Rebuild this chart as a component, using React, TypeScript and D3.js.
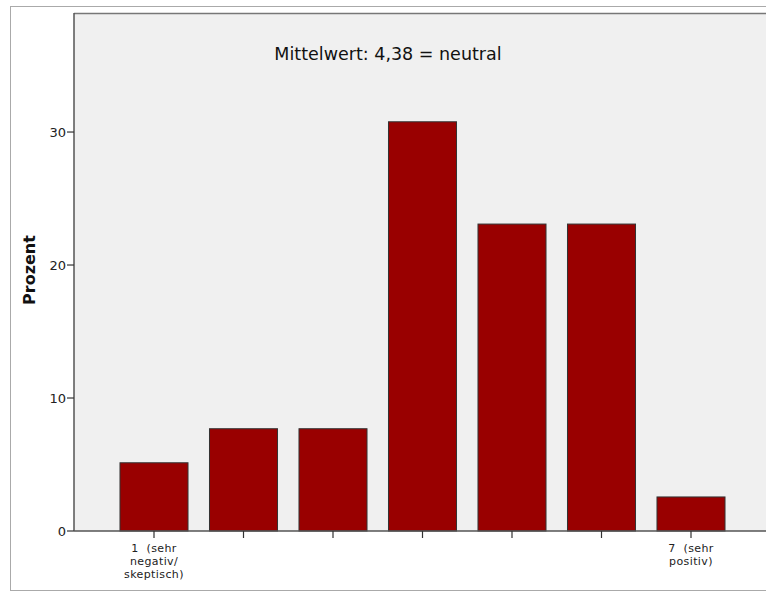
import React from "react";
import * as d3 from "d3";

const categories = ["1", "2", "3", "4", "5", "6", "7"];
const percents = [5.13, 7.69, 7.69, 30.77, 23.08, 23.08, 2.56];
const categoryLabels: Record<string, string[]> = {
  "1": ["1\u00a0\u00a0(sehr", "negativ/", "skeptisch)"],
  "7": ["7\u00a0\u00a0(sehr", "positiv)"],
};
const yTicks = [0, 10, 20, 30];
const titleText = "Mittelwert: 4,38 = neutral";
const yAxisLabel = "Prozent";

const W = 766;
const H = 592;
const plotLeft = 74;
const plotTop = 13;
const plotBottom = 531;
const plotRight = 770;

export default function App() {
  const x = d3
    .scaleBand<string>()
    .domain(categories)
    .range([109.25, 735.75])
    .paddingInner(0.24)
    .paddingOuter(0.12);
  const y = d3.scaleLinear().domain([0, 38.95]).range([plotBottom, plotTop]);
  const font = "'DejaVu Sans', sans-serif";

  return (
    <svg
      width={W}
      height={H}
      style={{ position: "absolute", left: 0, top: 0, background: "#fff" }}
      fontFamily={font}
    >
      <rect x={10.5} y={6.5} width={800} height={584} fill="#fff" stroke="#aaa" strokeWidth={1} />
      <rect
        x={plotLeft}
        y={plotTop}
        width={plotRight - plotLeft}
        height={plotBottom - plotTop}
        fill="#f0f0f0"
      />
      <line x1={plotLeft} x2={plotRight} y1={plotTop + 0.5} y2={plotTop + 0.5} stroke="#777" strokeWidth={1.5} />
      <text x={388} y={60} textAnchor="middle" fontSize={17.5} fill="#111">
        {titleText}
      </text>
      {categories.map((c, i) => (
        <rect
          key={c}
          x={x(c)!}
          y={y(percents[i])}
          width={x.bandwidth()}
          height={plotBottom - y(percents[i])}
          fill="#990000"
          stroke="#333"
          strokeWidth={1}
        />
      ))}
      <line x1={plotLeft} x2={plotLeft} y1={plotTop} y2={plotBottom} stroke="#555" strokeWidth={1.5} />
      <line x1={plotLeft} x2={plotRight} y1={plotBottom} y2={plotBottom} stroke="#555" strokeWidth={1.5} />
      {yTicks.map((t) => (
        <g key={t}>
          <line x1={plotLeft - 7} x2={plotLeft} y1={y(t)} y2={y(t)} stroke="#333" strokeWidth={1.2} />
          <text x={plotLeft - 8} y={y(t)} dy="0.35em" textAnchor="end" fontSize={13} fill="#222">
            {t}
          </text>
        </g>
      ))}
      {categories.map((c) => {
        const cx = x(c)! + x.bandwidth() / 2;
        const lines = categoryLabels[c] || [];
        return (
          <g key={c}>
            <line x1={cx} x2={cx} y1={plotBottom} y2={plotBottom + 7} stroke="#333" strokeWidth={1.2} />
            {lines.map((l, j) => (
              <text
                key={j}
                x={cx}
                y={552 + j * 13}
                textAnchor="middle"
                fontSize={11}
                letterSpacing={0.4}
                fill="#222"
              >
                {l}
              </text>
            ))}
          </g>
        );
      })}
      <text
        transform={`translate(35,270) rotate(-90)`}
        textAnchor="middle"
        fontSize={16}
        fontWeight="bold"
        fill="#111"
      >
        {yAxisLabel}
      </text>
    </svg>
  );
}
